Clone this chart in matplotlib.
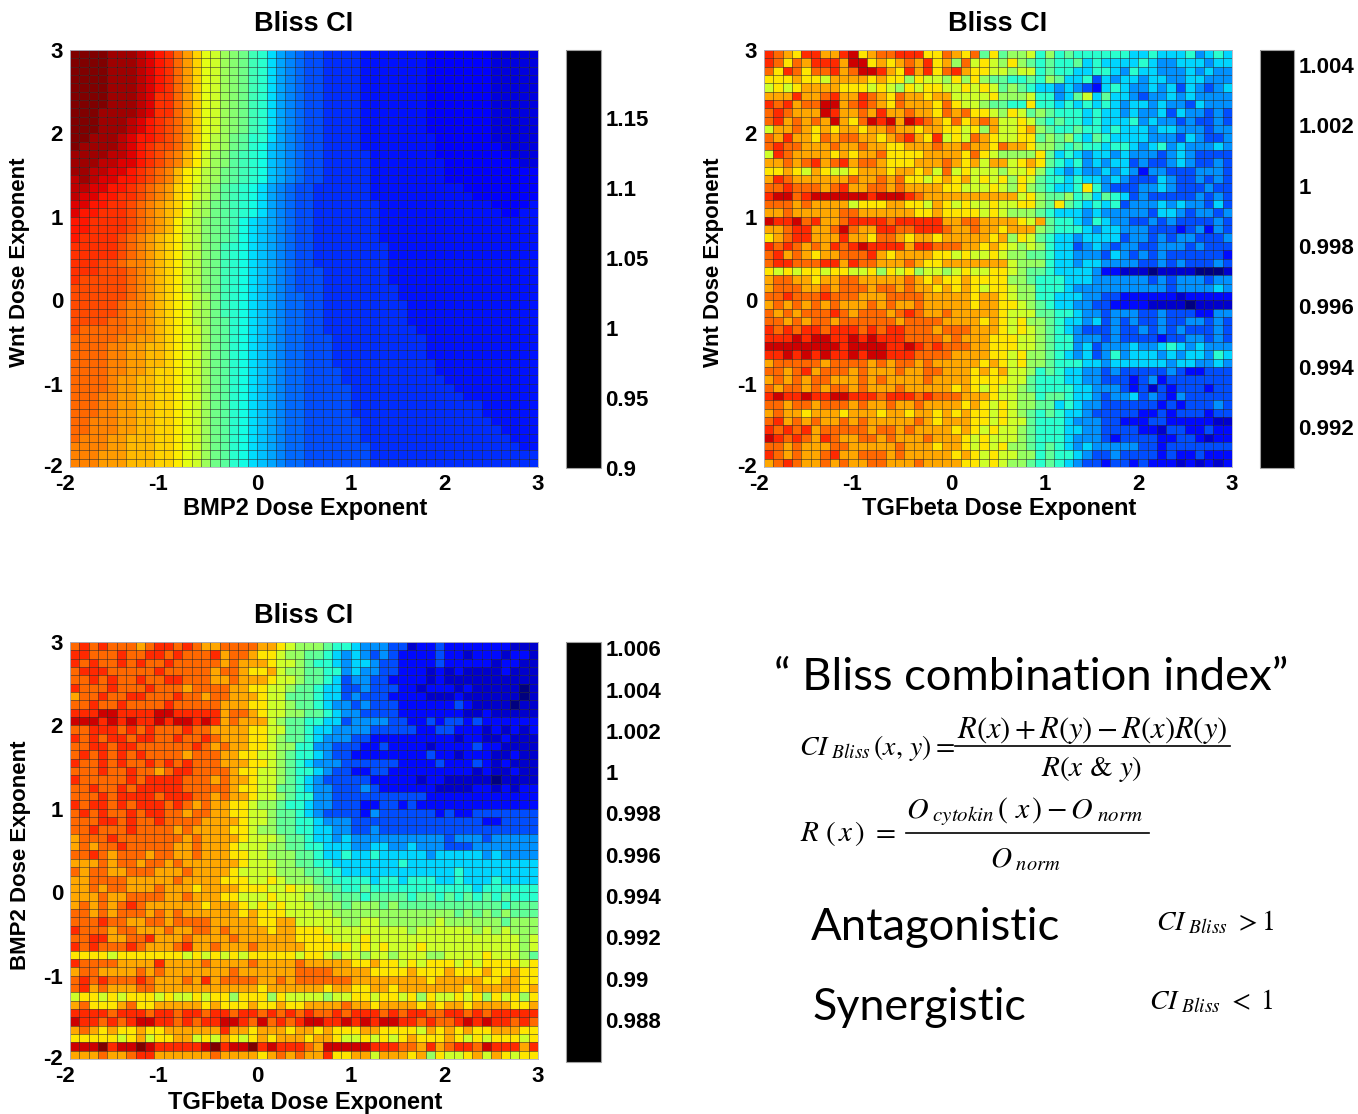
import matplotlib
matplotlib.use('Agg')
import matplotlib.pyplot as plt
import numpy as np
from matplotlib.cm import ScalarMappable
from matplotlib.colors import ListedColormap, Normalize
from matplotlib.lines import Line2D
from matplotlib.transforms import ScaledTranslation

W, H = 1358, 1114

# cell levels read off the picture along jet, top row first
# first panel is smooth so it gets base 36 (0 .. z), the noisy two are hex (0 .. f)
bmp2_wnt = """
zzzzyyyxwv usqomljihf eca9877666 6555555544 4444433333
zzzzyyyxwv usqomljihf eca9877666 6555555544 4444433333
zzzzyyyxwv usqomljihf eca9877666 6555555544 4444433333
zzzzyyyxwv usqomljihf eca9877666 6555555544 4444433333
zzzzyyyxwv usqomljihf eca9877666 6555555544 4444433333
zzzzyyyxwu usqomljihf eca9877666 6555555544 4444433333
zzzzyyyxwu usqomljihf eca9877666 6555555544 4444433333
zzzyyyyxwu usqomljihf eca9877666 6555555544 4444433333
zzzyyyxwvu tsqomljihf eca9877666 6555555544 4444433333
zzzyyyxwvu tsqomljihf eca9877666 6555555544 4444433333
zzyyyxwvvu tsqomkjhge eca9877666 6555555554 4444433333
zyyyyxwvut tsqomkjhge dba9877666 6555555554 4444443333
yyyyxxwvut srpnljigfe dba9877666 6655555554 4444444333
yyyxxwwvut srpnljigfe dba9877666 6655555555 4444444433
yyxxwwvuts rpnmkjhgfe dba9877666 6655555555 4444444444
xyxwwvvuts rpnmkjhgfe dba9877666 6655555555 4444444444
xxwwvvutsr qonlkigfed ca98776666 6655555555 5544444444
xwwvvuutsr qonlkigfed ca98776666 6655555555 5554444444
wwvvuutsrq pomkjhgfed ca98776666 6665555555 5555544445
wvvuuutsrq pomkjhgfed ca98776666 6665555555 5555554455
vvuuuutsrq pnlkihgfdc ba98776666 6665555555 5555555555
vvuuuutsrq pnlkihgfdc ba98776666 6665555555 5555555555
vuuuutsrqp onlkihgfdc ba98776666 6665555555 5555555555
uuuuutsrqp onlkihfedc ba98776666 6666555555 5555555555
uuuuutsrqp onlkihfedc ba98776666 6666555555 5555555555
uuuttsrrqp onlkihfedc ba98776666 6666555555 5555555555
uuutttsrqp onlkihfedc ba98777666 6666555555 5555555555
utttttsrqp onlkihfedc ba98777666 6666555555 5555555555
ttttttsrqp onlkihfedc ba98777666 6666655555 5555555555
ttttttsrqp onmkjhfedc ba98877666 6666655555 5555555555
tttttsrrqp onmkjhfedc ba98877666 6666665555 5555555555
tttttsrrqp onmkjhfedc ba98877666 6666665555 5555555555
ttttssrrqp onmkjhgedc ba98877666 6666665555 5555555555
tsssssrrqp onmljhgedc ba98877666 6666666555 5555555555
sssssrrqqp onmljhgedc ba98877766 6666666655 5555555555
ssssrrqqpp onmljhgedc ba98877766 6666666655 5555555555
ssssrrqqpp onmljhgedc ba98877766 6666666655 5555555555
ssssrrqqpp onmljhgedc ba98877766 6666666665 5555555555
ssssrrqqpo onmljhgedc ba98877776 6666666665 5555555555
ssssrqqppo onmljhgedc ba98877776 6666666666 5555555555
ssssrqqppo onmljhgedc ba98877777 6666666666 6555555555
sssrrqqppo onmljhgedc ba98877777 6666666666 6655555555
sssrrqqppo onmljhgedc ba98877777 6666666666 6666555555
sssrrqqppo onmljhgedc ba98877777 6666666666 6666555555
ssrrrqqppo onmljhgedc ba98877777 7666666666 6666655555
ssrrrqqppo onmljhgedc ba98877777 7666666666 6666665555
srrrqqpppo onmljhgedc ba98877777 7666666666 6666666555
rrrrqqpppo onmljhgedc ba98877777 7766666666 6666666655
rrrqqqpppo onmljhgedc ba98877777 7766666666 6666666666
rrrqqqpppo onmljhgedc ba98877777 7766666666 6666666666
"""

tgfb_wnt = """
dcbaddbbde abccdddaac bac7a78896 8676666665 5655564565
dcacbdddbe eababcbdab 8c9a98a876 7667565555 6544555455
cadcaccdbc eedbadbdac dbaa998996 7665566546 5544454544
aaabaa9bbb babaa8a998 a8a8776676 8755635455 4554455444
9a9abbbbaa a9a98a9aa9 9a9a978765 5454325654 4545354345
bbbdbbcdbb dcbacbbabb 9999a88896 6457957554 3445454444
dcdbcceebc dcbacbbbac a9987766a6 6565656545 5454435444
cdcbbbedbb cbdbbcbbac bcaa98a978 7666565545 4453544343
cdbcbcbeba cedebedcba cabcb99a97 6766565556 4544343343
9bbcbababb abbcbbabba a9a8b99ab8 7667665655 5455444344
cbdbbacbcc bbabcdbad9 a9cba99aa7 8786576555 5444354334
cdccbbbcbb cbbaabbbcb bcbbacbba8 8767665665 4564544454
9dcbbbbaba bbcaaaabbb baca98888a 7565455454 4434543333
bbcbcdbcdb ccbaaabbbc bab9bb9aba 7656454553 4334543343
aaba9ba99a bbbabbab9c 9a999899a8 6545445454 2443334443
bdcbbbbbbc bbcbcaa9ab ab9a9a8a97 6656554543 3354334343
ccdcccbcdb bccbcbbbba a999a98a87 6556a64333 4454333433
deecdeeeee edeeedcbbb bbbbbbb9a8 7786757653 4333334343
cccbcbbbb9 aaabbaa9ba 9a99a99aa8 7a76565634 4454544353
bbcbbbbbcc bbbbbbaaba aaa9a98887 6555454444 4355434434
eddecdbbcd dddcdddddb bccbbbba9b 7665465443 3434333343
bbcddbbcec bbddccdddc bbcbbabbb8 7666545544 4333234243
abcddbbbdb baccbabbab bbbbab8a97 6554555534 4343443334
dcdcbcbdcd eddddbddcc cbbaba9898 6553454344 3344434333
cdbcbabbcc cdbabbbbaa 9a99a98877 6554443543 4343333332
cddcccddbd ccbbbcbaab bbbbbb9888 6554554444 3343433343
a9a9aa9aa9 9a8a9a8998 9a99aa9877 6555542211 1011110001
bccbbabbcc bbbbbcbaba abaaaa8876 6655544444 4343444344
bcccbbcbcc cbccbcbbab aba9aa9886 6654444444 4443444454
ccdcccdccc bbbccccbbb bbabba9886 6555443322 2222122222
bcbcbcbcbb bcbcbbcbbb bbabbaa987 6554433222 2111101111
cbcbcccdcb cccbcdcbbc bbbbba9997 7665443444 3343332244
ccbcbccbcc ccccbccccb bbbaba9a88 7655453434 3343344343
dcdcddcddd cdcddcccbc ccbbba9a98 7654333433 4343433343
dddedeedde dedddccccb cbbbaaa998 7664443433 3323344343
eeeeeeeede eeeddedcdc ccbbaaa998 7664534445 4456545444
ddedededde deedddcccc bbbbaa9a88 7654534645 5545455465
bcccccbccc cbcbccbcbb bbbaba9a88 7666554555 5554554454
ccbcdbcccb cbbbcbbccb bbabab9986 7655443433 3334322333
bcbcbccbbb cbcbbbbcbb bbaaaa9976 6655443332 3423333333
cbccbcbccb cbbbcbbbbb aba9a99876 6665544432 3132333233
deddeddeed ddcdddcdcc cbbba99886 7765543445 3432433333
ccbccbcccb cbbcbbcbbb baba9a9887 7565443333 3323233343
bcbbabbbab bbabbabbab abaa9a9876 7655433333 2232333233
cdbcbcbbcb cbbbbbcbab bbaa9a9976 6654443322 2332222211
dcdcdbcccc cbccbcbbbb aba9a99876 6655443333 2213322322
edcdcbdcbb ccbcbbbcbb ba9a999876 6654443233 3322332122
ccbcbbbccb bbbbcbbbab ba9a9a8876 7654544444 3323333333
dcbcbbcdbb cccbcbbbbb aba9a99886 7665433433 3323223222
bcdcbbcbcb bccbbbcbbb baa9a98876 7654332332 3222121212
"""

tgfb_bmp2 = """
cdcdcccbcd dcdcbbcccc bba9888766 5444331223 2222222111
ddcccdccdd cdcccdbccb aa98877654 5434322223 2212221221
dcdccdcdcc dcccccbcbb ba99876654 5543322223 2222212211
cdddcccccd cccccbccba ab98877664 5443322212 1211112111
ccdcdccdcc ddcccbbcbb ba99877653 4433222212 1111111111
dcccdcccdc ccbccccbba a998776553 3433322122 2121111101
bccdccddcc cdccbccbbb a997776553 4333222211 1211111101
ccdccdcccc dcccccbbba a998776544 3433322222 2321111011
dddeedddde edddddbccb a998877654 4333322222 2211211111
eeedededde deededbcbb b987766553 4444332232 3323222222
ccdddcdcdc ccdccbbbba a997765544 4433333223 3222121212
dcdcddcddc cdccdcbbba a987765444 3322222222 2122112111
ccddcddccc cccdcbcbba a988664433 3223222212 2223221111
cdcdcdcdcc ccbcccbbaa 9987665433 2222222232 2122211211
dccdcdccdc dcdcccbbba a987654443 3333322223 2223212111
cccdccdccb cddccccbaa 9987665433 2233222222 2221211211
dcccccdcdd ddcccbcbba 9987654333 3322222122 1111101111
ccdccdcddd ddcccccbaa 9977654433 3432222221 1112212122
cccdcddddc dddccbcbba 9987664433 3333333322 2222222222
dcddcdcddd cdcbcbbaa9 8876654433 3223323222 2222222222
cdcdccdcdd ccbccbbaa9 9877654333 3243333332 3223333333
cccddcdccd ccccbbbba9 9877665444 3333333333 3333223333
ccdcccdccc cbcbbbbaa9 8877665544 3343333333 3333333333
bcccdccccc ccbcbbbba9 9987765545 4444444444 3444344444
bcbccdcccc cbbcbbba99 9887766555 4455445444 3334444444
ccdcbcccbc cbbcbbbaa9 9888776556 5565555545 5555454444
bbbcbccbcc bcbbbbbba9 9988776655 5555565555 5555555555
cbccbbcccb bbcbbbba99 9988877665 5555555555 5655555555
bbccccbbbb bcbbbbaaa9 9a98887766 6656656665 5655565555
bbcbccbbbc bbbabbbbaa a99a998776 6766666666 6665666666
bbbcbbcccc bbcbbbaa99 9a99988877 7677776776 7676767666
bcbcbcdcbb bbbbabbba9 a9a9998887 8887877777 7777776777
ccbcbcccbc bcbbbbbbab aaa9999988 8888888888 8787878777
cccdccbbcc bccccbbbbb aabb999998 8998888889 8888887888
dcccbccbbb cbbccbcbbb babbaaa999 9999998999 9998989888
ccddbbccdb bbcbbbbcbb bbbbaaaa99 9a99999999 9999999989
dcdcccdcbb bcdbbcbbbc bbbbbaaaaa 9a9a999a99 9999999989
aaaa9aaaaa aa9a9a9a9a aaaa9aa989 9899899988 9999a99987
dccccbbbbd bbbbcbbbbc bbbbcbbbbb aabaa9a9aa a9a9aaaa9a
bccbbbbcbc bbbbbbbcbb bbbbccccbb bbaaaabaaa baaabaabaa
cdcdcccdcb bbcbdbcccc bbcbcccccc bbbbbbbbab bbbbaabbaa
cdbcbbbccb bbbbbbbbbb abbbbbbabb aabbabbbbb bbabbbbbab
9aa9a9aaa9 a99a9aa8aa a8a9999899 aa9aa9a8a9 9a9a8a9a8a
bcaaabcaab bbbbabaaab aabaabbbbc bbabbbbaba bbabbbbaab
ddddcdddcd dcddcddcdd cdcdcdccdc dddcdcddcc ddcdcddddd
eddcdcdeed dcdcddeedc ecdcdeedde dedeeddcdc cdededdcdc
bcbabaabaa bbbbbbdbba bbbabbabaa abbaaaa9ba babaabbbaa
aaaaa9ab9a abb9a9ba9a babbbabba9 9a9a9abaaa ba9a9aaa9a
eeefdeefed ddddefdeef dedddcbeee eedddccbdb cddcedddbd
bbbcbbcddb bbbbbcbbbb abcbcbbdaa bb9bbbab8a 99ab9ba9aa
"""

# colourbar limits and tick labels as drawn
wnt_limits = (0.9, 1.1987)
wnt_ticks = [0.9, 0.95, 1, 1.05, 1.1, 1.15]
tw_limits = (0.99064, 1.0045)
tw_ticks = [0.992, 0.994, 0.996, 0.998, 1, 1.002, 1.004]
tb_limits = (0.98597, 1.0063)
tb_ticks = [0.988, 0.99, 0.992, 0.994, 0.996, 0.998, 1, 1.002, 1.004, 1.006]

dose_ticks = [-2, -1, 0, 1, 2, 3]
BOLD = 'Liberation Sans'


def decode(block, limits, base):
    rows = [r.replace(' ', '') for r in block.strip().splitlines()]
    levels = np.array([[int(c, base) for c in r] for r in rows], dtype=float)
    return limits[0] + levels / (base - 1) * (limits[1] - limits[0])


def box(x0, y0, x1, y1):
    return [x0 / W, 1 - y1 / H, (x1 - x0) / W, (y1 - y0) / H]


def nudge(label, dx, dy):
    label.set_transform(label.get_transform() + ScaledTranslation(dx / 100, dy / 100, fig.dpi_scale_trans))


def panel(block, base, limits, ticks, rect, cbar_rect, xlabel, ylabel, xlabel_y, ylabel_x, ylabel_c, ysize):
    ax = fig.add_axes(box(*rect))
    values = decode(block, limits, base)
    xe = np.linspace(-2, 3, values.shape[1] + 1)
    ye = np.linspace(3, -2, values.shape[0] + 1)
    norm = Normalize(*limits)
    ax.pcolormesh(xe, ye, values, cmap='jet', norm=norm, edgecolors=(0, 0, 0, 0.4), linewidth=0.6, antialiased=True)
    ax.set_xlim(-2, 3)
    ax.set_ylim(-2, 3)
    ax.set_xticks(dose_ticks)
    ax.set_yticks(dose_ticks)
    ax.tick_params(axis='x', length=0, pad=5)
    ax.tick_params(axis='y', length=0, pad=5)
    ax.set_xticklabels([str(t) for t in dose_ticks])
    ax.set_yticklabels([str(t) for t in dose_ticks])
    for t in ax.get_xticklabels() + ax.get_yticklabels():
        t.set_fontfamily(BOLD)
        t.set_fontweight('bold')
        t.set_fontsize(16)
    for s in ax.spines.values():
        s.set_color('#b0b0c0')
        s.set_linewidth(0.6)
    # negative labels sit a little left, -2 on y a little high
    nudge(ax.get_xticklabels()[0], -5, 0)
    nudge(ax.get_xticklabels()[1], -6, 0)
    nudge(ax.get_yticklabels()[0], 0, 2)

    xc = (rect[0] + rect[2]) / 2
    fig.text(xc / W, 1 - (rect[1] - 26) / H, 'Bliss CI', ha='center', va='center',
             family=BOLD, weight='bold', fontsize=19.5)
    fig.text((xc + 1) / W, 1 - xlabel_y / H, xlabel, ha='center', va='center',
             family=BOLD, weight='bold', fontsize=17)
    fig.text(ylabel_x / W, 1 - ylabel_c / H, ylabel, ha='center', va='center',
             rotation=90, family=BOLD, weight='bold', fontsize=ysize)

    cax = fig.add_axes(box(*cbar_rect))
    cb = fig.colorbar(ScalarMappable(norm=norm, cmap=ListedColormap(['black'])), cax=cax)
    cb.set_ticks(ticks)
    cb.set_ticklabels([f'{t:g}' for t in ticks])
    cb.ax.tick_params(length=0, pad=3)
    for t in cb.ax.get_yticklabels():
        t.set_fontfamily(BOLD)
        t.set_fontweight('bold')
        t.set_fontsize(16)
    cb.outline.set_edgecolor('#a0a0a0')
    cb.outline.set_linewidth(0.8)


def put(x, y, s, size, ha='left', family='STIXGeneral', **kw):
    fig.text(x / W, 1 - y / H, s, ha=ha, va='center', fontsize=size, family=family, **kw)


def bar(x0, x1, y):
    fig.add_artist(Line2D([x0 / W, x1 / W], [1 - y / H, 1 - y / H], color='black', lw=1.2))


plt.rcParams['mathtext.fontset'] = 'stix'
fig = plt.figure(figsize=(W / 100, H / 100), dpi=100, facecolor='white')

panel(bmp2_wnt, 36, wnt_limits, wnt_ticks, (70, 50, 538, 467), (566, 50, 601, 468),
      'BMP2 Dose Exponent', 'Wnt Dose Exponent', 508, 20, 262, 16)
panel(tgfb_wnt, 16, tw_limits, tw_ticks, (764, 50, 1232, 467), (1260, 50, 1294, 468),
      'TGFbeta Dose Exponent', 'Wnt Dose Exponent', 508, 714, 262, 16)
panel(tgfb_bmp2, 16, tb_limits, tb_ticks, (70, 642, 538, 1059), (566, 642, 601, 1062),
      'TGFbeta Dose Exponent', 'BMP2 Dose Exponent', 1102, 21, 855, 16)

# text block, bottom right
put(1031, 677, '\u201c Bliss combination index\u201d', 32.7, ha='center', family='Lato')
put(799, 748, r'$CI_{\ Bliss}\,(x,\,y)=$', 20)
put(1092, 731, r'$R(x)+R(y)-R(x)R(y)$', 22, ha='center')
bar(955, 1230, 746)
put(1092, 769, r'$R(x$ & $y)$', 21, ha='center')
put(800, 833, r'$R\ (\,x\,)\ =$', 21)
put(1025, 812, r'$O_{\ cytokin}\,(\ x\,)-O_{\ norm}$', 21.5, ha='center')
bar(906, 1149, 833)
put(1025, 860, r'$O_{\ norm}$', 21, ha='center')
put(811, 928, 'Antagonistic', 32.7, family='Lato')
put(1156, 923, r'$CI_{\ Bliss}\ >1$', 20)
put(812, 1007, 'Synergistic', 32.2, family='Lato')
put(1149, 1002, r'$CI_{\ Bliss}\ <\ 1$', 20)

fig.savefig('out.png', dpi=100)
